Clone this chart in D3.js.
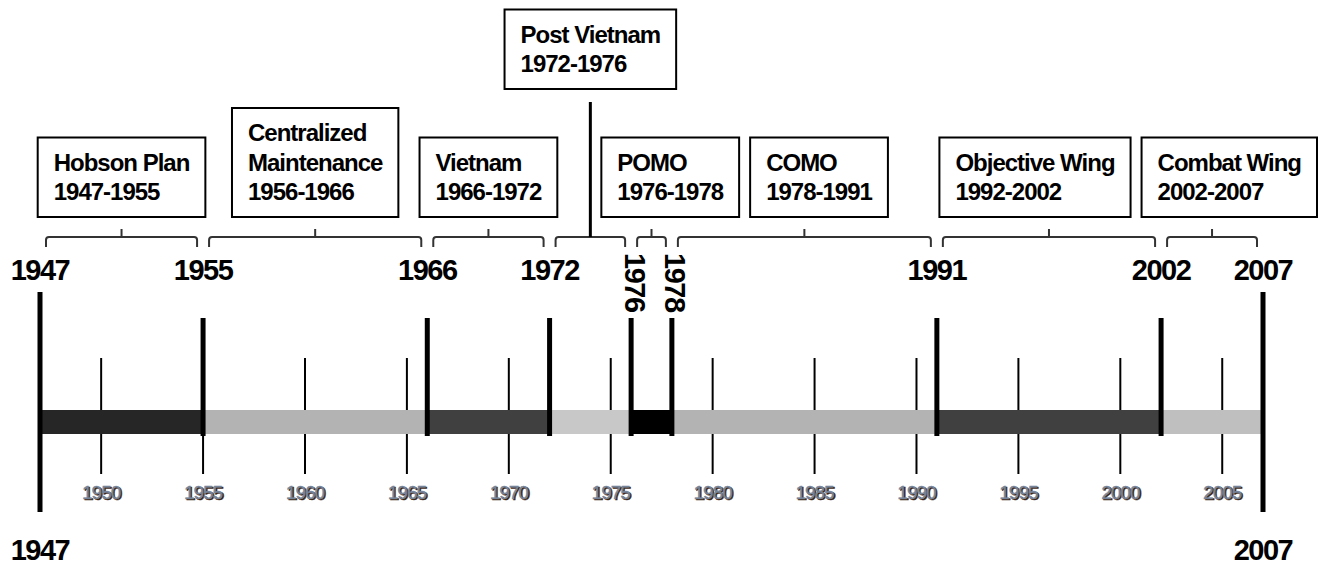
<!DOCTYPE html>
<html>
<head>
<meta charset="utf-8">
<script src="https://cdn.jsdelivr.net/npm/d3@7"></script>
<style>
  html, body { margin: 0; padding: 0; background: #fff; }
  svg { display: block; font-family: 'Liberation Sans', Arial, sans-serif; }
  .boxText { font-weight: bold; font-size: 24px; letter-spacing: -1px; fill: #000; }
  .bigYear { font-weight: bold; font-size: 29px; letter-spacing: -1.5px; fill: #000; }
  .minorYear { font-size: 19px; letter-spacing: -1px; }
</style>
</head>
<body>
<svg id="chart" width="1318" height="566"></svg>
<script>
// eras of the timeline
const eraNames = [['Hobson Plan'], ['Centralized', 'Maintenance'], ['Vietnam'], ['Post Vietnam'],
  ['POMO'], ['COMO'], ['Objective Wing'], ['Combat Wing']]
const eraSpans = ['1947-1955', '1956-1966', '1966-1972', '1972-1976', '1976-1978', '1978-1991', '1992-2002', '2002-2007']
const eraStart = [1947, 1955, 1966, 1972, 1976, 1978, 1991, 2002]
const eraEnd = [1955, 1966, 1972, 1976, 1978, 1991, 2002, 2007]
const eraShade = ['#262626', '#b3b3b3', '#404040', '#c8c8c8', '#000000', '#b3b3b3', '#404040', '#bfbfbf']
const raisedEra = 'Post Vietnam'

const boundaryYears = [1947, 1955, 1966, 1972, 1976, 1978, 1991, 2002, 2007]
const rotatedYears = [1976, 1978]
const endYears = [1947, 2007]
const minorYears = [1950, 1955, 1960, 1965, 1970, 1975, 1980, 1985, 1990, 1995, 2000, 2005]

const svg = d3.select('#chart')
const x = d3.scaleLinear().domain([1947, 2007]).range([40, 1263])

const barTop = 410
const barH = 24
const braceY = 237
const boxGap = 11
const rightEdge = 1317

const eras = eraStart.map((s, i) => ({ start: s, end: eraEnd[i], name: eraNames[i], span: eraSpans[i], shade: eraShade[i] }))

/** minor ticks sit under the bar */
svg.append('g').selectAll('line')
  .data(minorYears).enter().append('line')
  .attr('x1', d => x(d)).attr('x2', d => x(d))
  .attr('y1', 358).attr('y2', 474)
  .attr('stroke', '#000').attr('stroke-width', 2)

const minor = svg.append('g')
minor.selectAll('text.shadow')
  .data(minorYears).enter().append('text')
  .attr('class', 'minorYear shadow')
  .attr('x', d => x(d) + 1.3).attr('y', 500)
  .attr('text-anchor', 'middle').attr('fill', '#3d2412')
  .attr('stroke', '#3d2412').attr('stroke-width', 0.5)
  .text(d => d)
minor.selectAll('text.face')
  .data(minorYears).enter().append('text')
  .attr('class', 'minorYear face')
  .attr('x', d => x(d)).attr('y', 499)
  .attr('text-anchor', 'middle').attr('fill', '#76849a')
  .attr('stroke', '#76849a').attr('stroke-width', 0.4)
  .text(d => d)

/** the bar itself */
svg.append('g').selectAll('rect')
  .data(eras).enter().append('rect')
  .attr('x', d => x(d.start)).attr('width', d => x(d.end) - x(d.start))
  .attr('y', barTop).attr('height', barH)
  .attr('fill', d => d.shade)

/** thick boundary lines */
svg.append('g').selectAll('line')
  .data(boundaryYears).enter().append('line')
  .attr('x1', d => x(d)).attr('x2', d => x(d))
  .attr('y1', d => endYears.includes(d) ? 292 : 318)
  .attr('y2', d => endYears.includes(d) ? 512 : 436)
  .attr('stroke', '#000').attr('stroke-width', 5)

/** year labels */
svg.append('g').selectAll('text')
  .data(boundaryYears.filter(d => !rotatedYears.includes(d))).enter().append('text')
  .attr('class', 'bigYear')
  .attr('x', d => x(d)).attr('y', 280)
  .attr('text-anchor', 'middle')
  .text(d => d)

svg.append('g').selectAll('text')
  .data(rotatedYears).enter().append('text')
  .attr('class', 'bigYear')
  .attr('transform', d => `translate(${x(d) + 4},253) rotate(90)`)
  .attr('dy', '0.36em')
  .text(d => d)

svg.append('g').selectAll('text')
  .data(endYears).enter().append('text')
  .attr('class', 'bigYear')
  .attr('x', d => x(d)).attr('y', 560)
  .attr('text-anchor', 'middle')
  .text(d => d)

/** braces above the year labels */
const braces = svg.append('g').attr('fill', 'none').attr('stroke', '#333').attr('stroke-width', 2)
braces.selectAll('path')
  .data(eras).enter().append('path')
  .attr('d', d => {
    const l = x(d.start) + 6
    const r = x(d.end) - 6
    const c = (l + r) / 2
    let p = `M${l},${braceY + 10} L${l},${braceY + 3} Q${l},${braceY} ${l + 3},${braceY} L${r - 3},${braceY} Q${r},${braceY} ${r},${braceY + 3} L${r},${braceY + 10}`
    if (d.name[0] !== raisedEra) p += ` M${c},${braceY} L${c},${braceY - 8}`
    return p
  })

/** annotation boxes */
const lineGap = 29.5
const padX = 16
const boxes = svg.append('g').selectAll('g')
  .data(eras).enter().append('g')

boxes.each(function (d) {
  const g = d3.select(this)
  const lines = d.name.concat([d.span])
  const raised = d.name[0] === raisedEra
  d.bottom = raised ? 89 : 217
  d.height = 50 + (lines.length - 1) * lineGap
  const t = g.selectAll('text').data(lines).enter().append('text')
    .attr('class', 'boxText')
    .attr('y', (s, i) => d.bottom - 17 - (lines.length - 1 - i) * lineGap)
    .text(s => s)
  let w = 0
  t.each(function () { w = Math.max(w, this.getComputedTextLength()) })
  d.width = w + 2 * padX
  d.left = x((d.start + d.end) / 2) - d.width / 2
  d.raised = raised
})

// the raised box hangs on a connector; lower boxes must stay clear of it
const raised = eras.find(d => d.raised)
const connectorX = x((raised.start + raised.end) / 2)

const row = eras.filter(d => !d.raised)
// sweep right: keep gaps and stay clear of the connector
for (let i = 0; i < row.length; i++) {
  const b = row[i]
  if (b.start >= raised.end) b.left = Math.max(b.left, connectorX + boxGap)
  if (i > 0) {
    const a = row[i - 1]
    b.left = Math.max(b.left, a.left + a.width + boxGap)
  }
}
// sweep left: stay inside the picture
for (let i = row.length - 1; i >= 0; i--) {
  const b = row[i]
  const limit = i === row.length - 1 ? rightEdge : row[i + 1].left - boxGap
  if (b.left + b.width > limit) b.left = limit - b.width
}

boxes.each(function (d) {
  const g = d3.select(this)
  g.insert('rect', 'text')
    .attr('x', d.left).attr('y', d.bottom - d.height)
    .attr('width', d.width).attr('height', d.height)
    .attr('fill', '#fff').attr('stroke', '#000').attr('stroke-width', 2)
  g.selectAll('text').attr('x', d.left + padX)
})

svg.append('line')
  .attr('x1', connectorX).attr('x2', connectorX)
  .attr('y1', raised.bottom + 13).attr('y2', braceY)
  .attr('stroke', '#000').attr('stroke-width', 3)
</script>
</body>
</html>
